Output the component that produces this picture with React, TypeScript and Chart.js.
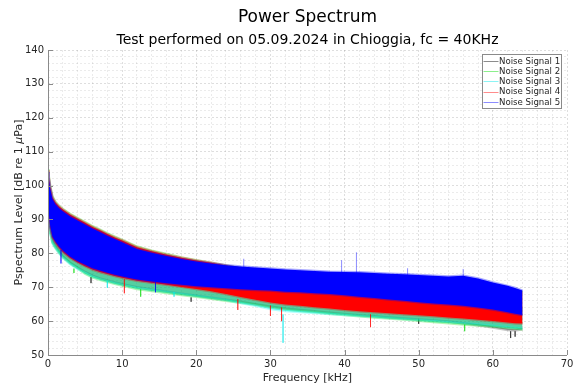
import React, { useEffect, useRef } from 'react';
import { Chart, registerables } from 'chart.js';

Chart.register(...registerables);

// ---------------- data ----------------
const FREQ_KHZ = [0, 0.1, 0.3, 0.6, 1, 1.5, 2, 3, 4, 5, 6, 7, 8, 9, 10, 12, 14, 16, 18, 20, 22, 24, 26, 28, 30, 32, 34, 36, 38, 40, 42, 44, 46, 48, 50, 52, 54, 56, 58, 60, 62, 63, 64];

// Noise Signal 5 (blue) envelope
const S5_HI = [104, 102, 99, 96, 94.5, 93.3, 92.4, 90.9, 89.7, 88.5, 87.3, 86.3, 85.2, 84.2, 83.3, 81.3, 80.2, 79.2, 78.3, 77.6, 77.0, 76.5, 76.1, 75.8, 75.5, 75.2, 75.0, 74.8, 74.6, 74.5, 74.4, 74.2, 74.0, 73.8, 73.6, 73.4, 73.2, 73.4, 72.6, 71.4, 70.4, 69.8, 69.0];
const S5_LO = [95, 92, 88, 85, 83.5, 82, 80.8, 79, 77.7, 76.6, 75.6, 74.9, 74.3, 73.7, 73.2, 72.3, 71.7, 71.2, 70.7, 70.3, 70.0, 69.7, 69.4, 69.2, 69.0, 68.7, 68.5, 68.2, 68.0, 67.6, 67.2, 66.8, 66.4, 66.0, 65.6, 65.2, 64.9, 64.5, 64.0, 63.4, 62.6, 62.2, 61.8];
// Noise Signal 4 (red)
const S4_HI = [104.5, 102.5, 99.5, 96.5, 95, 93.8, 92.9, 91.4, 90.2, 89, 87.8, 86.8, 85.7, 84.7, 83.8, 81.8, 80.6, 79.6, 78.7, 77.9, 77.2, 76.4, 75.5, 75, 74.5, 74.2, 74, 73.8, 73.6, 73.4, 73.3, 73.1, 72.9, 72.7, 72.5, 72.3, 72.1, 71.9, 71.3, 70.5, 69.6, 69.0, 68.4];
const S4_LO = [94.6, 91.6, 87.6, 84.6, 83.1, 81.6, 80.4, 78.6, 77.3, 76.2, 75.2, 74.5, 73.9, 73.3, 72.8, 71.9, 71.3, 70.7, 70.1, 69.5, 68.8, 68.0, 67.1, 66.3, 65.5, 64.9, 64.5, 64.1, 63.7, 63.3, 62.9, 62.6, 62.3, 62.0, 61.7, 61.4, 61.1, 60.8, 60.4, 60.0, 59.6, 59.4, 59.3];
// Noise Signal 3 (cyan)
const S3_HI = [96.5, 93.5, 89.5, 86.5, 85, 83.6, 82.4, 80.6, 79.3, 78.2, 77.2, 76.5, 75.9, 75.3, 74.8, 73.9, 73.3, 72.8, 72.3, 71.9, 71.6, 71.3, 71.0, 70.8, 70.6, 70.3, 70.1, 69.8, 69.6, 69.2, 68.8, 68.4, 68.0, 67.6, 67.2, 66.8, 66.5, 66.1, 65.6, 65.0, 64.2, 63.8, 63.4];
const S3_LO = [93, 90, 86, 83, 81.5, 80, 78.7, 76.8, 75.4, 74.2, 73.1, 72.4, 71.8, 71.2, 70.7, 69.8, 69.2, 68.6, 68.0, 67.4, 66.8, 66.2, 65.3, 64.5, 63.6, 63.0, 62.7, 62.4, 62.1, 61.8, 61.5, 61.2, 60.9, 60.6, 60.3, 60.0, 59.7, 59.4, 59.0, 58.6, 58.2, 58.0, 57.8];
// Noise Signal 2 (green)
const S2_HI = [104.8, 102.8, 99.8, 96.8, 95.2, 94.0, 93.1, 91.6, 90.4, 89.2, 88.0, 87.0, 85.9, 84.9, 84.0, 82.0, 80.8, 79.8, 78.8, 78.0, 77.2, 76.4, 75.6, 75.1, 74.6, 74.3, 74.1, 73.9, 73.7, 73.5, 73.4, 73.2, 73.0, 72.8, 72.6, 72.4, 72.2, 72.0, 71.4, 70.6, 69.7, 69.1, 68.5];
const S2_LO = [93.3, 90.3, 86.3, 83.2, 81.7, 80.2, 78.9, 77.0, 75.6, 74.0, 72.9, 72.2, 71.6, 71.0, 70.5, 69.5, 68.9, 68.3, 67.7, 67.2, 66.6, 66.0, 65.4, 64.8, 64.0, 63.4, 63.0, 62.6, 62.2, 61.8, 61.4, 61.1, 60.8, 60.5, 60.1, 59.7, 59.4, 59.0, 58.7, 58.4, 58.0, 57.8, 57.5];
// Noise Signal 1 (black)
const S1_HI = [97, 94, 90, 87, 85.5, 84, 82.8, 81, 79.7, 78.6, 77.6, 76.9, 76.3, 75.7, 75.2, 74.3, 73.7, 73.2, 72.7, 72.3, 72.0, 71.7, 71.4, 71.2, 71.0, 70.7, 70.5, 70.2, 70.0, 69.6, 69.2, 68.8, 68.4, 68.0, 67.6, 67.2, 66.9, 66.5, 66.0, 65.4, 64.6, 64.2, 63.8];
const S1_LO = [93.6, 90.6, 86.6, 83.5, 82, 80.4, 79.1, 77.2, 75.8, 74.5, 73.4, 72.6, 72.0, 71.4, 70.9, 70.0, 69.3, 68.7, 68.1, 67.5, 66.9, 66.3, 65.7, 65.0, 64.3, 63.7, 63.3, 62.9, 62.5, 62.1, 61.7, 61.4, 61.1, 60.8, 60.5, 60.2, 59.9, 59.4, 58.8, 58.1, 57.4, 57.2, 57.6];

// isolated spikes (series number 1..5, frequency, base, tip)
const SPIKE_SERIES = [5, 5, 5, 5, 5, 5, 5, 3, 2, 1, 1, 4, 4, 1, 1, 2, 2, 3, 3, 4, 4, 4, 5, 1];
const SPIKE_FREQ = [0.05, 26.4, 39.6, 41.6, 56.0, 1.75, 14.5, 31.7, 56.2, 62.4, 63.0, 31.5, 43.5, 5.8, 19.3, 3.5, 12.5, 8.0, 17.0, 10.3, 25.6, 30.0, 48.5, 50.0];
const SPIKE_BASE = [100, 75, 74, 74, 73, 81, 71.5, 62, 59, 57, 57, 64, 62, 73, 67, 75.5, 69.5, 71.8, 68.6, 72.4, 66.5, 64.6, 73, 60.5];
const SPIKE_TIP = [111.5, 78.4, 78.0, 80.3, 75.4, 77, 68.5, 53.6, 57.0, 55.0, 55.4, 60.0, 58.2, 71.2, 65.7, 74.2, 67.2, 69.8, 67.2, 68.2, 63.3, 61.5, 75.6, 59.2];

const SERIES_NAMES = ['Noise Signal 1', 'Noise Signal 2', 'Noise Signal 3', 'Noise Signal 4', 'Noise Signal 5'];
const X_TICKS = [0, 10, 20, 30, 40, 50, 60, 70];
const Y_TICKS = [50, 60, 70, 80, 90, 100, 110, 120, 130, 140];
const X_MINOR_STEP = 2;
const Y_MINOR_STEP = 2;

const TITLE = 'Power Spectrum';
const SUBTITLE = 'Test performed on 05.09.2024 in Chioggia, fc = 40KHz';
const X_TITLE = 'Frequency [kHz]';
const Y_TITLE_A = 'Pspectrum Level [dB re 1 ';
const Y_TITLE_MU = 'μ';
const Y_TITLE_B = 'Pa]';

const FONT = "'DejaVu Sans', 'Liberation Sans', sans-serif";

const STYLE = [
  { fill: 'rgba(0,0,0,0.28)', edge: 'rgba(0,0,0,0.22)', legend: 'rgba(0,0,0,0.45)', order: 5 },
  { fill: 'rgba(0,210,0,0.32)', edge: 'rgba(0,220,0,0.3)', legend: 'rgba(0,220,0,0.45)', order: 4 },
  { fill: 'rgba(0,235,235,0.32)', edge: 'rgba(0,255,255,0.3)', legend: 'rgba(0,230,230,0.45)', order: 3 },
  { fill: '#ff0000', edge: 'rgba(255,0,0,0.35)', legend: 'rgba(255,0,0,0.45)', order: 2 },
  { fill: '#0000ff', edge: 'rgba(0,0,255,0.35)', legend: 'rgba(0,0,255,0.45)', order: 1 },
];

function toPoints(vals: number[]) {
  return FREQ_KHZ.map((f, i) => ({ x: f, y: vals[i] }));
}

const textPlugin = {
  id: 'matlabDecor',
  afterDraw(chart: any) {
    const { ctx, chartArea: a, scales } = chart;
    const xs = scales.x;
    const ys = scales.y;
    ctx.save();
    // axis lines
    ctx.strokeStyle = '#8a8a8a';
    ctx.lineWidth = 1;
    ctx.beginPath();
    ctx.moveTo(Math.round(a.left) + 0.5, a.top);
    ctx.lineTo(Math.round(a.left) + 0.5, Math.round(a.bottom) + 0.5);
    ctx.lineTo(a.right, Math.round(a.bottom) + 0.5);
    ctx.stroke();
    // inward ticks
    ctx.beginPath();
    X_TICKS.forEach((v) => {
      const px = Math.round(xs.getPixelForValue(v)) + 0.5;
      ctx.moveTo(px, a.bottom);
      ctx.lineTo(px, a.bottom - 5);
    });
    Y_TICKS.forEach((v) => {
      const py = Math.round(ys.getPixelForValue(v)) + 0.5;
      ctx.moveTo(a.left, py);
      ctx.lineTo(a.left + 5, py);
    });
    ctx.stroke();

    const cx = (a.left + a.right) / 2;
    ctx.fillStyle = '#000';
    ctx.textAlign = 'center';
    ctx.textBaseline = 'middle';
    ctx.font = `17px ${FONT}`;
    ctx.fillText(TITLE, cx, 18);
    ctx.font = `14px ${FONT}`;
    ctx.fillText(SUBTITLE, cx, 40);

    ctx.fillStyle = '#262626';
    ctx.font = `11px ${FONT}`;
    ctx.fillText(X_TITLE, cx, 378);

    // y title, rotated, with italic mu
    const cy = (a.top + a.bottom) / 2;
    ctx.translate(19, cy);
    ctx.rotate(-Math.PI / 2);
    ctx.font = `11px ${FONT}`;
    const wA = ctx.measureText(Y_TITLE_A).width;
    const wB = ctx.measureText(Y_TITLE_B).width;
    ctx.font = `italic 11px ${FONT}`;
    const wM = ctx.measureText(Y_TITLE_MU).width;
    let x0 = -(wA + wM + wB) / 2;
    ctx.textAlign = 'left';
    ctx.font = `11px ${FONT}`;
    ctx.fillText(Y_TITLE_A, x0, 0);
    x0 += wA;
    ctx.font = `italic 11px ${FONT}`;
    ctx.fillText(Y_TITLE_MU, x0, 0);
    x0 += wM;
    ctx.font = `11px ${FONT}`;
    ctx.fillText(Y_TITLE_B, x0, 0);
    ctx.restore();

    // legend
    ctx.save();
    const bw = 79;
    const bh = 54;
    const bx = Math.round(a.right - 6 - bw) + 0.5;
    const by = Math.round(a.top + 4) + 0.5;
    ctx.fillStyle = '#ffffff';
    ctx.fillRect(bx, by, bw, bh);
    ctx.strokeStyle = '#8a8a8a';
    ctx.lineWidth = 1;
    ctx.strokeRect(bx, by, bw, bh);
    ctx.font = `8.6px ${FONT}`;
    ctx.textAlign = 'left';
    ctx.textBaseline = 'middle';
    SERIES_NAMES.forEach((name, i) => {
      const ly = by + 6.5 + i * 10.2;
      ctx.strokeStyle = STYLE[i].legend;
      ctx.beginPath();
      ctx.moveTo(bx + 1, Math.round(ly) + 0.5);
      ctx.lineTo(bx + 16, Math.round(ly) + 0.5);
      ctx.stroke();
      ctx.fillStyle = '#262626';
      ctx.fillText(name, bx + 16.5, ly + 0.5);
    });
    ctx.restore();
  },
};

export default function App() {
  const ref = useRef<HTMLCanvasElement | null>(null);

  useEffect(() => {
    document.body.style.margin = '0';
    const canvas = ref.current;
    if (!canvas) return;

    const his = [S1_HI, S2_HI, S3_HI, S4_HI, S5_HI];
    const los = [S1_LO, S2_LO, S3_LO, S4_LO, S5_LO];
    const datasets: any[] = [];
    for (let s = 4; s >= 0; s--) {
      const idx = datasets.length;
      datasets.push({
        label: SERIES_NAMES[s],
        data: toPoints(his[s]),
        fill: idx + 1,
        backgroundColor: STYLE[s].fill,
        borderColor: STYLE[s].edge,
        borderWidth: 2.5,
        pointRadius: 0,
        tension: 0,
        order: STYLE[s].order,
      });
      datasets.push({
        label: SERIES_NAMES[s] + ' (min)',
        data: toPoints(los[s]),
        fill: false,
        borderColor: STYLE[s].edge,
        borderWidth: 2.5,
        pointRadius: 0,
        tension: 0,
        order: STYLE[s].order,
      });
    }
    SPIKE_FREQ.forEach((f, i) => {
      const s = SPIKE_SERIES[i] - 1;
      datasets.push({
        label: 'spike ' + i,
        data: [
          { x: f, y: SPIKE_BASE[i] },
          { x: f, y: SPIKE_TIP[i] },
        ],
        fill: false,
        borderColor: STYLE[s].legend,
        borderWidth: 1,
        pointRadius: 0,
        order: STYLE[s].order,
      });
    });

    const xGrid: number[] = [];
    for (let v = X_TICKS[0]; v <= X_TICKS[X_TICKS.length - 1]; v += X_MINOR_STEP) xGrid.push(v);
    const yGrid: number[] = [];
    for (let v = Y_TICKS[0]; v <= Y_TICKS[Y_TICKS.length - 1]; v += Y_MINOR_STEP) yGrid.push(v);

    const gridColor = (c: any) =>
      c.tick && c.tick.value % 10 === 0 ? 'rgba(0,0,0,0.13)' : 'rgba(0,0,0,0.08)';

    const chart = new Chart(canvas, {
      type: 'line',
      data: { datasets },
      options: {
        animation: false,
        responsive: false,
        events: [],
        layout: { padding: { top: 50, right: 13, left: 0, bottom: 0 } },
        plugins: {
          legend: { display: false },
          title: { display: false },
          tooltip: { enabled: false },
        },
        scales: {
          x: {
            type: 'linear',
            min: 0,
            max: 70,
            afterBuildTicks: (sc: any) => {
              sc.ticks = xGrid.map((v) => ({ value: v }));
            },
            afterFit: (sc: any) => {
              sc.height = 30;
            },
            ticks: {
              autoSkip: false,
              maxRotation: 0,
              padding: 3,
              color: '#262626',
              font: { family: FONT, size: 10 },
              callback: (v: any) => (X_TICKS.includes(Number(v)) ? String(v) : ''),
            },
            grid: { drawTicks: false, color: gridColor, lineWidth: 1 },
            border: { display: false, dash: [2, 2] },
          },
          y: {
            type: 'linear',
            min: 50,
            max: 140,
            afterBuildTicks: (sc: any) => {
              sc.ticks = yGrid.map((v) => ({ value: v }));
            },
            afterFit: (sc: any) => {
              sc.width = 48;
            },
            ticks: {
              autoSkip: false,
              padding: 4,
              color: '#262626',
              font: { family: FONT, size: 10 },
              callback: (v: any) => (Y_TICKS.includes(Number(v)) ? String(v) : ''),
            },
            grid: { drawTicks: false, color: gridColor, lineWidth: 1 },
            border: { display: false, dash: [2, 2] },
          },
        },
      },
      plugins: [textPlugin],
    } as any);

    return () => chart.destroy();
  }, []);

  return (
    <div style={{ position: 'absolute', left: 0, top: 0, width: 580, height: 385, background: '#fff' }}>
      <canvas ref={ref} width={580} height={385} style={{ width: 580, height: 385, display: 'block' }} />
    </div>
  );
}
